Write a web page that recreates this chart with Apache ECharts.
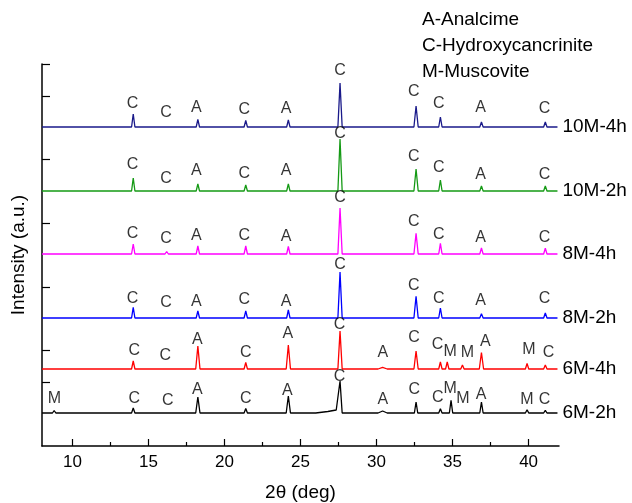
<!DOCTYPE html>
<html>
<head>
<meta charset="utf-8">
<script src="https://cdn.jsdelivr.net/npm/echarts@6/dist/echarts.min.js"></script>
<style>
  html, body { margin: 0; padding: 0; background: #fff; }
  #chart { width: 632px; height: 503px; }
</style>
</head>
<body>
<div id="chart"></div>
<script>
// pattern names, top to bottom, and where each trace sits on the stacked axis
const seriesNames = ['10M-4h', '10M-2h', '8M-4h', '8M-2h', '6M-4h', '6M-2h'];
const baselines = [319, 255, 192, 128, 77, 33];
const lineColors = ['#1a1a8a', '#159a15', '#ff00ff', '#0000ff', '#ff0000', '#000000'];

// 10M / 8M samples share the same reflections
const peaks10M = [14.0, 16.2, 18.25, 21.4, 24.2, 27.6, 32.6, 34.2, 36.9, 41.1];
const phase10M = ['C', 'C', 'A', 'C', 'A', 'C', 'C', 'C', 'A', 'C'];
const labelX10M = [13.95, 16.15, 18.15, 21.3, 24.05, 27.6, 32.45, 34.1, 36.85, 41.05];
const heights10M4h = [13, 2, 7.5, 6.5, 7, 44, 21, 10, 5, 5];
const heights10M2h = [13, 2, 7, 6, 7, 52, 22, 11, 5, 5];
const heights8M4h = [10, 2.5, 8, 8, 7.5, 46, 20.7, 10.7, 6, 5.7];
const heights8M2h = [10.7, 2, 7, 7, 8, 46, 21.7, 10, 4.3, 5];
const labelUp10M4h = [23, 14, 19, 17, 18, 56, 35, 23, 19, 18];
const labelUp10M2h = [26, 12, 20, 17, 20, 57, 34, 23, 16, 16];
const labelUp8M4h = [20.5, 15.5, 18.5, 18.5, 17.5, 56.5, 32, 19.5, 16, 16];
const labelUp8M2h = [19, 15, 16.5, 18, 16.5, 53, 32.5, 19, 17, 19];

// 6M-4h
const peaks6M4h = [14.0, 16.2, 18.25, 21.4, 24.2, 27.6, 30.4, 32.6, 34.2, 34.65, 35.65, 36.9, 39.9, 41.1];
const phase6M4h = ['C', 'C', 'A', 'C', 'A', 'C', 'A', 'C', 'C', 'M', 'M', 'A', 'M', 'C'];
const heights6M4h = [8, 2, 23, 6.5, 24, 38, 1.7, 18, 7, 7, 4, 16.5, 5.5, 4];
const labelX6M4h = [14.07, 16.11, 18.22, 21.4, 24.16, 27.56, 30.41, 32.47, 34.01, 34.84, 35.98, 37.16, 40.02, 41.31];
const labelUp6M4h = [18.3, 13, 29.7, 16.7, 35, 44, 16.7, 31.7, 24, 17.3, 16.7, 27.3, 19, 16.7];

// 6M-2h
const peaks6M2h = [8.8, 14.0, 16.2, 18.25, 21.4, 24.2, 27.6, 30.4, 32.6, 34.2, 34.9, 35.7, 36.9, 39.9, 41.1];
const phase6M2h = ['M', 'C', 'C', 'A', 'C', 'A', 'C', 'A', 'C', 'C', 'M', 'M', 'A', 'M', 'C'];
const heights6M2h = [2.5, 5, 1.5, 16, 4.5, 17, 29, 2, 11, 4.3, 12.7, 2, 11, 3.3, 2.7];
const labelX6M2h = [8.81, 14.07, 16.27, 18.22, 21.4, 24.14, 27.56, 30.41, 32.49, 34.03, 34.84, 35.68, 36.88, 39.89, 41.05];
const labelUp6M2h = [14.7, 14.7, 12.3, 23, 14.7, 22, 36, 13, 23, 15.7, 24.7, 14.7, 18, 13, 13];
// broad amorphous rise before the main 27.6 reflection
const hump6M2h = [[26.0, 0], [26.8, 1.5], [27.35, 3]];

const xTicks = [10, 15, 20, 25, 30, 35, 40];
const xMinorTicks = [12.5, 17.5, 22.5, 27.5, 32.5, 37.5];
const yTicks = [64, 96, 159, 223, 287, 350, 382];

const phaseLegend = ['A-Analcime', 'C-Hydroxycancrinite', 'M-Muscovite'];

const patterns = [
  { peaks: peaks10M, heights: heights10M4h, phase: phase10M, lx: labelX10M, ly: labelUp10M4h, extra: [] },
  { peaks: peaks10M, heights: heights10M2h, phase: phase10M, lx: labelX10M, ly: labelUp10M2h, extra: [] },
  { peaks: peaks10M, heights: heights8M4h, phase: phase10M, lx: labelX10M, ly: labelUp8M4h, extra: [] },
  { peaks: peaks10M, heights: heights8M2h, phase: phase10M, lx: labelX10M, ly: labelUp8M2h, extra: [] },
  { peaks: peaks6M4h, heights: heights6M4h, phase: phase6M4h, lx: labelX6M4h, ly: labelUp6M4h, extra: [] },
  { peaks: peaks6M2h, heights: heights6M2h, phase: phase6M2h, lx: labelX6M2h, ly: labelUp6M2h, extra: hump6M2h }
];

function traceData(p, base) {
  const pts = [[8, 0], [41.9, 0]].concat(p.extra.map(d => [d[0], d[1]]));
  p.peaks.forEach((x, i) => {
    const h = p.heights[i];
    const w = x > 30 && x < 31 ? 0.3 : (h > 15 ? 0.14 : 0.11);
    // foot level follows the hump when a peak sits on it
    const foot = x === 27.6 && p.extra.length ? 3 : 0;
    pts.push([x - w, foot], [x, h + foot], [x + w, 0]);
  });
  pts.sort((a, b) => a[0] - b[0]);
  return pts.map(d => [d[0], base + d[1]]);
}

function labelData(p, base) {
  return p.phase.map((t, i) => ({ name: t, value: [p.lx[i], base + p.ly[i]] }));
}

const font = 'Liberation Sans, Arial, sans-serif';
const series = [];
patterns.forEach((p, k) => {
  series.push({
    name: seriesNames[k],
    type: 'line',
    data: traceData(p, baselines[k]),
    symbol: 'none',
    lineStyle: { color: lineColors[k], width: 1.3 },
    itemStyle: { color: lineColors[k] },
    endLabel: {
      show: true, formatter: '{a}', distance: 5,
      color: '#000', fontSize: 19, fontFamily: font
    },
    z: 2
  });
  series.push({
    type: 'scatter',
    data: labelData(p, baselines[k]),
    symbolSize: 1,
    itemStyle: { color: 'rgba(0,0,0,0)' },
    label: {
      show: true, position: 'inside', formatter: '{b}',
      color: '#000', fontSize: 16, fontFamily: font
    },
    z: 3
  });
});

const chart = echarts.init(document.getElementById('chart'));
chart.setOption({
  animation: false,
  backgroundColor: '#fff',
  grid: { left: 42, right: 73, top: 64, bottom: 57, containLabel: false, outerBoundsMode: 'none' },
  xAxis: [{
    type: 'value', min: 8, max: 42,
    name: '2\u03b8 (deg)', nameLocation: 'middle', nameGap: 37,
    nameTextStyle: { color: '#000', fontSize: 19, fontFamily: font },
    axisLine: { show: true, lineStyle: { color: '#000', width: 1.5 } },
    axisTick: { show: true, inside: true, length: 7, customValues: xTicks, lineStyle: { color: '#000', width: 1.2 } },
    axisLabel: { show: true, customValues: xTicks, margin: 8, color: '#000', fontSize: 17, fontFamily: font },
    splitLine: { show: false }
  }, {
    type: 'value', min: 8, max: 42, position: 'bottom',
    axisLine: { show: false },
    axisTick: { show: true, inside: true, length: 4, customValues: xMinorTicks, lineStyle: { color: '#000', width: 1.2 } },
    axisLabel: { show: false },
    splitLine: { show: false }
  }],
  yAxis: {
    type: 'value', min: 0, max: 382,
    name: 'Intensity (a.u.)', nameLocation: 'middle', nameGap: 14,
    nameTextStyle: { color: '#000', fontSize: 19, fontFamily: font },
    axisLine: { show: true, lineStyle: { color: '#000', width: 1.5 } },
    axisTick: { show: true, inside: true, length: 8, customValues: yTicks, lineStyle: { color: '#000', width: 1.2 } },
    axisLabel: { show: false },
    splitLine: { show: false }
  },
  graphic: phaseLegend.map((t, i) => ({
    type: 'text', left: 422, top: 10 + i * 26,
    style: { text: t, fill: '#000', font: '19px ' + font }
  })),
  series: series
});
</script>
</body>
</html>
